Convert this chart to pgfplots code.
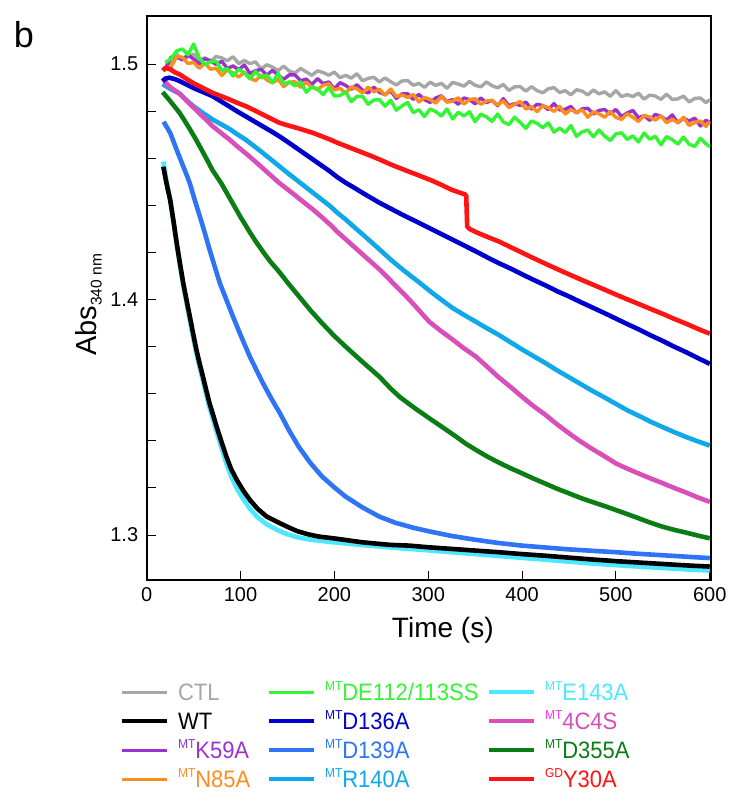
\documentclass[border=0pt]{standalone}
\usepackage{fontspec}
\setmainfont{Liberation Sans}
\usepackage{pgfplots}
\pgfplotsset{compat=1.18}

\definecolor{ctl}{HTML}{A6A6A6}
\definecolor{k59}{HTML}{9933CC}
\definecolor{n85}{HTML}{FF8C1F}
\definecolor{de112}{HTML}{33F533}
\definecolor{d136}{HTML}{0000CC}
\definecolor{d139}{HTML}{2E74F5}
\definecolor{r140}{HTML}{10A8E8}
\definecolor{e143}{HTML}{4DE8FF}
\definecolor{c4s}{HTML}{D94FBA}
\definecolor{c4sup}{HTML}{FF33FF}
\definecolor{d355}{HTML}{0A7D14}
\definecolor{y30}{HTML}{FF1414}

\newcommand\sups[1]{\raisebox{8.5pt}{\fontsize{12}{12}\selectfont #1}}
\newcommand\lt[1]{\scalebox{1}[1.08]{#1}}

\begin{document}
\begin{tikzpicture}
\useasboundingbox (-146.7pt,-229pt) rectangle (585.3pt,580pt);
\begin{axis}[
    at={(0pt,0pt)}, anchor=south west,
    scale only axis,
    width=564pt, height=564pt,
    xmin=0, xmax=601,
    ymin=1.2809, ymax=1.5204,
    xtick={0,100,200,300,400,500,600},
    ytick={1.3,1.4,1.5},
    minor ytick={1.32,1.34,1.36,1.38,1.42,1.44,1.46,1.48},
    tick pos=left,
    tick align=inside,
    major tick length=9pt,
    minor tick length=9pt,
    every tick/.style={black, line width=1pt},
    axis line style={line width=2pt},
    /pgf/number format/assume math mode=true,
    tick label style={font=\fontsize{20}{22}\selectfont},
    xticklabel shift=3.5pt,
    yticklabel shift=5pt,
    xlabel={Time (s)},
    every axis x label/.style={at={(axis description cs:0.525,-0.0887)}, anchor=center, font=\fontsize{28}{30}\selectfont},
    ylabel={Abs\raisebox{-5pt}{\fontsize{15.5}{16}\selectfont 340 nm}},
    every axis y label/.style={at={(axis description cs:-0.1027,0.488)}, rotate=90, anchor=center, font=\fontsize{29}{31}\selectfont},
    every axis plot/.append style={line join=round},
    legend columns=3,
    legend cell align=left,
    legend image code/.code={\draw[#1] (0pt,0pt) -- (45pt,0pt);},
    legend style={at={(axis description cs:-0.0473,-0.1773)}, anchor=north west,
        draw=none, fill=none, inner sep=0pt, outer sep=0pt,
        font=\fontsize{22}{24}\selectfont,
        row sep=5pt, column sep=0pt,
        /tikz/every odd column/.append style={column sep=9pt},
        nodes={inner sep=0pt, text height=20pt, text depth=4pt}},
]

% CTL
\addplot[ctl, line width=3.4pt, forget plot] coordinates {
(20,1.4998) (26,1.5004) (32,1.5042) (38,1.5018) (44,1.5031) (50,1.5042) (56,1.5017) (62,1.5026) (68,1.5010) (74,1.5032)
(80,1.5026) (86,1.5014) (92,1.5031) (98,1.5002) (104,1.5015) (110,1.5002) (116,1.5009) (122,1.4979) (128,1.4997) (134,1.4987)
(140,1.4972) (146,1.4991) (152,1.4970) (158,1.4962) (164,1.4981) (170,1.4967) (176,1.4952) (182,1.4971) (188,1.4964) (194,1.4953)
(200,1.4966) (206,1.4942) (212,1.4952) (218,1.4940) (224,1.4959) (230,1.4929) (236,1.4939) (242,1.4944) (248,1.4924) (254,1.4941)
(260,1.4925) (266,1.4911) (272,1.4928) (278,1.4930) (284,1.4910) (290,1.4918) (296,1.4901) (302,1.4923) (308,1.4909) (314,1.4918)
(320,1.4897) (326,1.4922) (332,1.4915) (338,1.4906) (344,1.4926) (350,1.4910) (356,1.4903) (362,1.4924) (368,1.4908) (374,1.4899)
(380,1.4913) (386,1.4888) (392,1.4903) (398,1.4904) (404,1.4885) (410,1.4904) (416,1.4887) (422,1.4878) (428,1.4895) (434,1.4900)
(440,1.4879) (446,1.4887) (452,1.4869) (458,1.4891) (464,1.4885) (470,1.4869) (476,1.4890) (482,1.4873) (488,1.4882) (494,1.4863)
(500,1.4887) (506,1.4862) (512,1.4870) (518,1.4862) (524,1.4876) (530,1.4851) (536,1.4868) (542,1.4864) (548,1.4850) (554,1.4872)
(560,1.4850) (566,1.4852) (572,1.4864) (578,1.4839) (584,1.4854) (590,1.4856) (596,1.4836) (600,1.4849)
};
% K59A
\addplot[k59, line width=3.4pt, forget plot] coordinates {
(20,1.4980) (26,1.5030) (32,1.5029) (38,1.5018) (44,1.5039) (50,1.5021) (56,1.5001) (62,1.5023) (68,1.5014) (74,1.4998)
(80,1.5012) (86,1.4981) (92,1.4992) (98,1.4976) (104,1.4996) (110,1.4960) (116,1.4972) (122,1.4977) (128,1.4953) (134,1.4973)
(140,1.4953) (146,1.4935) (152,1.4954) (158,1.4954) (164,1.4929) (170,1.4936) (176,1.4913) (182,1.4938) (188,1.4917) (194,1.4924)
(200,1.4895) (206,1.4921) (212,1.4909) (218,1.4893) (224,1.4912) (230,1.4888) (236,1.4877) (242,1.4902) (248,1.4880) (254,1.4870)
(260,1.4886) (266,1.4854) (272,1.4873) (278,1.4874) (284,1.4850) (290,1.4871) (296,1.4849) (302,1.4837) (308,1.4856) (314,1.4865)
(320,1.4840) (326,1.4849) (332,1.4829) (338,1.4856) (344,1.4849) (350,1.4831) (356,1.4856) (362,1.4836) (368,1.4846) (374,1.4823)
(380,1.4853) (386,1.4823) (392,1.4832) (398,1.4824) (404,1.4839) (410,1.4809) (416,1.4829) (422,1.4824) (428,1.4806) (434,1.4832)
(440,1.4805) (446,1.4808) (452,1.4820) (458,1.4792) (464,1.4810) (470,1.4812) (476,1.4788) (482,1.4803) (488,1.4807) (494,1.4788)
(500,1.4807) (506,1.4777) (512,1.4792) (518,1.4803) (524,1.4772) (530,1.4781) (536,1.4761) (542,1.4786) (548,1.4778) (554,1.4762)
(560,1.4784) (566,1.4751) (572,1.4770) (578,1.4758) (584,1.4770) (590,1.4737) (596,1.4761) (600,1.4753)
};
% N85A
\addplot[n85, line width=3.4pt, forget plot] coordinates {
(20,1.4981) (26,1.4988) (32,1.5032) (38,1.5029) (44,1.5002) (50,1.5007) (56,1.4982) (62,1.5003) (68,1.4978) (74,1.4982)
(80,1.4951) (86,1.4976) (92,1.4962) (98,1.4945) (104,1.4965) (110,1.4940) (116,1.4929) (122,1.4954) (128,1.4932) (134,1.4920)
(140,1.4935) (146,1.4904) (152,1.4923) (158,1.4925) (164,1.4901) (170,1.4923) (176,1.4902) (182,1.4891) (188,1.4910) (194,1.4916)
(200,1.4890) (206,1.4897) (212,1.4876) (218,1.4903) (224,1.4895) (230,1.4877) (236,1.4902) (242,1.4882) (248,1.4893) (254,1.4868)
(260,1.4894) (266,1.4862) (272,1.4869) (278,1.4858) (284,1.4871) (290,1.4839) (296,1.4858) (302,1.4850) (308,1.4834) (314,1.4862)
(320,1.4838) (326,1.4842) (332,1.4857) (338,1.4830) (344,1.4849) (350,1.4853) (356,1.4829) (362,1.4843) (368,1.4846) (374,1.4826)
(380,1.4844) (386,1.4815) (392,1.4829) (398,1.4841) (404,1.4809) (410,1.4819) (416,1.4798) (422,1.4823) (428,1.4815) (434,1.4799)
(440,1.4820) (446,1.4788) (452,1.4806) (458,1.4795) (464,1.4806) (470,1.4774) (476,1.4797) (482,1.4789) (488,1.4774) (494,1.4799)
(500,1.4773) (506,1.4765) (512,1.4789) (518,1.4774) (524,1.4756) (530,1.4782) (536,1.4775) (542,1.4762) (548,1.4780) (554,1.4751)
(560,1.4765) (566,1.4751) (572,1.4774) (578,1.4739) (584,1.4752) (590,1.4758) (596,1.4735) (600,1.4757)
};
% DE112/113SS
\addplot[de112, line width=3.4pt, forget plot] coordinates {
(20,1.5006) (26,1.5024) (32,1.5056) (38,1.5064) (44,1.5040) (50,1.5085) (56,1.5026) (62,1.4997) (68,1.5010) (74,1.5012)
(80,1.4973) (86,1.4980) (92,1.4949) (98,1.4978) (104,1.4963) (110,1.4937) (116,1.4969) (122,1.4941) (128,1.4954) (134,1.4921)
(140,1.4960) (146,1.4916) (152,1.4924) (158,1.4907) (164,1.4924) (170,1.4880) (176,1.4904) (182,1.4894) (188,1.4870) (194,1.4901)
(200,1.4864) (206,1.4866) (212,1.4882) (218,1.4840) (224,1.4863) (230,1.4863) (236,1.4829) (242,1.4847) (248,1.4849) (254,1.4821)
(260,1.4846) (266,1.4804) (272,1.4822) (278,1.4837) (284,1.4794) (290,1.4806) (296,1.4777) (302,1.4809) (308,1.4798) (314,1.4779)
(320,1.4809) (326,1.4767) (332,1.4795) (338,1.4780) (344,1.4797) (350,1.4755) (356,1.4787) (362,1.4776) (368,1.4756) (374,1.4788)
(380,1.4754) (386,1.4743) (392,1.4774) (398,1.4752) (404,1.4727) (410,1.4758) (416,1.4748) (422,1.4730) (428,1.4750) (434,1.4711)
(440,1.4728) (446,1.4709) (452,1.4739) (458,1.4693) (464,1.4712) (470,1.4720) (476,1.4691) (482,1.4720) (488,1.4694) (494,1.4675)
(500,1.4704) (506,1.4708) (512,1.4680) (518,1.4695) (524,1.4669) (530,1.4707) (536,1.4681) (542,1.4693) (548,1.4657) (554,1.4692)
(560,1.4679) (566,1.4660) (572,1.4690) (578,1.4660) (584,1.4650) (590,1.4685) (596,1.4661) (600,1.4649)
};
% R140A
\addplot[r140, line width=4.6pt, forget plot] coordinates {
(17,1.4915) (21,1.4905) (25,1.4895) (30,1.4885) (35,1.4875) (42,1.4848) (50,1.4820) (60,1.4792) (70,1.4765) (79,1.4745)
(88,1.4725) (96,1.4703) (105,1.4680) (114,1.4653) (123,1.4625) (132,1.4596) (141,1.4567) (150,1.4538) (159,1.4510) (168,1.4482)
(177,1.4454) (186,1.4426) (195,1.4398) (203,1.4369) (212,1.4340) (221,1.4308) (230,1.4277) (239,1.4245) (248,1.4213) (261,1.4166)
(275,1.4120) (290,1.4074) (304,1.4029) (315,1.3996) (326,1.3964) (338,1.3935) (351,1.3905) (363,1.3877) (375,1.3850) (388,1.3818)
(400,1.3788) (412,1.3760) (425,1.3730) (437,1.3700) (450,1.3670) (462,1.3642) (475,1.3612) (488,1.3584) (500,1.3557) (512,1.3530)
(525,1.3505) (537,1.3481) (550,1.3458) (562,1.3437) (575,1.3416) (587,1.3398) (600,1.3380)
};
% 4C4S
\addplot[c4s, line width=4.6pt, forget plot] coordinates {
(17,1.4940) (21,1.4918) (25,1.4902) (30,1.4888) (35,1.4874) (42,1.4846) (50,1.4815) (60,1.4776) (70,1.4737) (79,1.4708)
(88,1.4680) (96,1.4652) (105,1.4623) (114,1.4592) (123,1.4560) (132,1.4528) (141,1.4496) (150,1.4468) (159,1.4440) (168,1.4411)
(177,1.4383) (186,1.4352) (195,1.4320) (203,1.4288) (212,1.4256) (221,1.4224) (230,1.4192) (239,1.4160) (248,1.4128) (256,1.4096)
(265,1.4060) (274,1.4024) (283,1.3986) (292,1.3946) (301,1.3906) (313,1.3868) (326,1.3830) (338,1.3793) (351,1.3757) (363,1.3714)
(375,1.3670) (388,1.3628) (400,1.3587) (412,1.3548) (425,1.3510) (437,1.3471) (450,1.3432) (462,1.3398) (475,1.3365) (488,1.3334)
(500,1.3304) (512,1.3282) (525,1.3260) (537,1.3240) (550,1.3220) (562,1.3200) (575,1.3180) (587,1.3160) (600,1.3141)
};
% D355A
\addplot[d355, line width=4.6pt, forget plot] coordinates {
(17,1.4881) (21,1.4862) (25,1.4843) (30,1.4818) (35,1.4793) (40,1.4762) (45,1.4730) (52,1.4683) (60,1.4625) (65,1.4588)
(70,1.4550) (75,1.4520) (80,1.4490) (85,1.4455) (90,1.4420) (95,1.4385) (100,1.4350) (105,1.4318) (110,1.4285) (117,1.4242)
(125,1.4197) (132,1.4160) (140,1.4123) (152,1.4063) (164,1.4005) (175,1.3952) (187,1.3899) (200,1.3845) (212,1.3800) (230,1.3735)
(248,1.3672) (260,1.3622) (270,1.3585) (287,1.3535) (304,1.3488) (318,1.3450) (330,1.3417) (340,1.3388) (351,1.3361) (363,1.3333)
(375,1.3308) (388,1.3283) (400,1.3262) (412,1.3240) (425,1.3218) (437,1.3197) (450,1.3177) (462,1.3158) (475,1.3140) (488,1.3123)
(500,1.3106) (512,1.3089) (525,1.3070) (537,1.3052) (550,1.3035) (562,1.3022) (575,1.3010) (587,1.2998) (600,1.2986)
};
% D139A
\addplot[d139, line width=4.6pt, forget plot] coordinates {
(18,1.4755) (22,1.4728) (25,1.4708) (28.5,1.4672) (32,1.4635) (35.5,1.4600) (39,1.4565) (42.5,1.4530) (46,1.4493) (51,1.4425)
(56.7,1.4352) (62,1.4282) (67,1.4212) (72.5,1.4140) (78,1.4069) (85,1.3998) (92,1.3927) (101,1.3840) (110,1.3757) (117,1.3700)
(124,1.3644) (133,1.3578) (142,1.3517) (152,1.3442) (162,1.3375) (174,1.3308) (187,1.3248) (200,1.3202) (212,1.3163) (230,1.3117)
(248,1.3078) (265,1.3052) (285,1.3030) (304,1.3013) (325,1.2996) (350,1.2980) (375,1.2966) (400,1.2955) (425,1.2947) (450,1.2939)
(475,1.2933) (500,1.2927) (525,1.2920) (550,1.2914) (575,1.2908) (600,1.2902)
};
% E143A
\addplot[e143, line width=4.6pt, forget plot] coordinates {
(17.7,1.4586) (21,1.4505) (25,1.4425) (28.5,1.4330) (32,1.4232) (35.5,1.4142) (39,1.4058) (42.5,1.3984) (46,1.3912) (49.5,1.3840)
(53,1.3770) (56.5,1.3710) (60,1.3654) (63.5,1.3596) (67,1.3540) (71,1.3486) (74.5,1.3438) (80,1.3366) (85,1.3302) (90,1.3248)
(96,1.3198) (103,1.3152) (110,1.3112) (118,1.3076) (128,1.3045) (142,1.3016) (150,1.3003) (160,1.2991) (172,1.2982) (184,1.2976)
(197,1.2970) (210,1.2965) (230,1.2957) (260,1.2947) (280,1.2941) (300,1.2935) (325,1.2927) (350,1.2919) (375,1.2911) (400,1.2903)
(425,1.2895) (450,1.2887) (475,1.2879) (500,1.2872) (525,1.2866) (550,1.2860) (575,1.2854) (600,1.2849)
};
% WT
\addplot[black, line width=4.6pt, forget plot] coordinates {
(17.7,1.4564) (21,1.4495) (25,1.4423) (28.5,1.4335) (32,1.4239) (35.5,1.4152) (39,1.4069) (42.5,1.3997) (46,1.3927) (49.5,1.3855)
(53,1.3786) (56.5,1.3727) (60,1.3672) (63.5,1.3614) (67,1.3559) (71,1.3507) (74.5,1.3460) (80,1.3392) (85,1.3332) (90,1.3280)
(96,1.3234) (103,1.3188) (110,1.3149) (118,1.3112) (128,1.3078) (142,1.3050) (150,1.3035) (160,1.3017) (172,1.3003) (184,1.2993)
(197,1.2987) (210,1.2980) (230,1.2969) (260,1.2958) (280,1.2955) (300,1.2948) (325,1.2941) (350,1.2934) (375,1.2927) (400,1.2919)
(425,1.2912) (450,1.2904) (475,1.2896) (500,1.2889) (525,1.2883) (550,1.2877) (575,1.2871) (600,1.2866)
};
% D136A
\addplot[d136, line width=4.6pt, forget plot] coordinates {
(17,1.4928) (20,1.4938) (24,1.4942) (30,1.4936) (35,1.4928) (42,1.4914) (50,1.4898) (60,1.4881) (70,1.4864) (79,1.4842)
(88,1.4820) (96,1.4800) (105,1.4779) (114,1.4758) (123,1.4737) (132,1.4716) (141,1.4694) (150,1.4670) (159,1.4645) (168,1.4620)
(177,1.4595) (186,1.4570) (195,1.4545) (203,1.4520) (212,1.4496) (221,1.4475) (230,1.4453) (239,1.4432) (248,1.4411) (261,1.4384)
(275,1.4355) (290,1.4326) (304,1.4298) (315,1.4276) (326,1.4254) (338,1.4230) (351,1.4204) (363,1.4179) (375,1.4155) (388,1.4131)
(400,1.4107) (412,1.4084) (425,1.4060) (437,1.4036) (450,1.4013) (462,1.3990) (475,1.3966) (488,1.3942) (500,1.3919) (512,1.3896)
(525,1.3872) (537,1.3848) (550,1.3824) (562,1.3800) (575,1.3776) (587,1.3752) (600,1.3727)
};
% Y30A
\addplot[y30, line width=4.6pt, forget plot] coordinates {
(17,1.4972) (20,1.4984) (25,1.4978) (30,1.4965) (35,1.4956) (42,1.4938) (50,1.4918) (60,1.4898) (70,1.4878) (79,1.4864)
(88,1.4850) (96,1.4836) (105,1.4822) (114,1.4805) (123,1.4787) (132,1.4769) (141,1.4751) (150,1.4740) (159,1.4730) (168,1.4719)
(177,1.4708) (186,1.4694) (195,1.4680) (203,1.4666) (212,1.4652) (221,1.4638) (230,1.4624) (239,1.4610) (248,1.4595) (261,1.4572)
(275,1.4550) (290,1.4527) (304,1.4505) (315,1.4485) (325,1.4466) (332,1.4456) (339,1.4447) (340.5,1.4440) (341.5,1.4310) (344,1.4300)
(351,1.4286) (363,1.4266) (375,1.4247) (388,1.4222) (400,1.4199) (412,1.4176) (425,1.4152) (437,1.4130) (450,1.4107) (462,1.4086)
(475,1.4064) (488,1.4042) (500,1.4021) (512,1.4001) (525,1.3980) (537,1.3960) (550,1.3939) (562,1.3918) (575,1.3897) (587,1.3876)
(600,1.3855)
};

% legend, row by row
\addlegendimage{ctl, line width=3pt}
\addlegendentry{\makebox[89pt][l]{\lt{\textcolor{ctl}{CTL}}}}
\addlegendimage{de112, line width=3pt}
\addlegendentry{\makebox[162pt][l]{\lt{\textcolor{de112}{\sups{MT}DE112/113SS}}}}
\addlegendimage{e143, line width=4pt}
\addlegendentry{\lt{\textcolor{e143}{\sups{MT}E143A}}}
\addlegendimage{black, line width=4pt}
\addlegendentry{\makebox[89pt][l]{\lt{WT}}}
\addlegendimage{d136, line width=4pt}
\addlegendentry{\makebox[162pt][l]{\lt{\textcolor{d136}{\sups{MT}D136A}}}}
\addlegendimage{c4s, line width=4pt}
\addlegendentry{\lt{\textcolor{c4sup}{\sups{MT}}\textcolor{c4s}{4C4S}}}
\addlegendimage{k59, line width=3pt}
\addlegendentry{\makebox[89pt][l]{\lt{\textcolor{k59}{\sups{MT}K59A}}}}
\addlegendimage{d139, line width=4pt}
\addlegendentry{\makebox[162pt][l]{\lt{\textcolor{d139}{\sups{MT}D139A}}}}
\addlegendimage{d355, line width=4pt}
\addlegendentry{\lt{\textcolor{d355}{\sups{MT}D355A}}}
\addlegendimage{n85, line width=3pt}
\addlegendentry{\makebox[89pt][l]{\lt{\textcolor{n85}{\sups{MT}N85A}}}}
\addlegendimage{r140, line width=4pt}
\addlegendentry{\makebox[162pt][l]{\lt{\textcolor{r140}{\sups{MT}R140A}}}}
\addlegendimage{y30, line width=4pt}
\addlegendentry{\lt{\textcolor{y30}{\sups{GD}Y30A}}}
\end{axis}
\node[font=\fontsize{36}{38}\selectfont, anchor=center] at (-122.7pt,545pt) {b};
\end{tikzpicture}
\end{document}
